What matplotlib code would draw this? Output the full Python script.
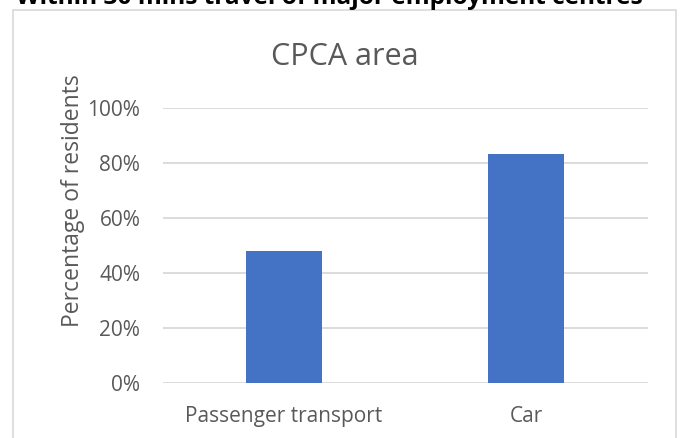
import matplotlib
matplotlib.use("Agg")
import matplotlib.pyplot as plt
from matplotlib.patches import Rectangle
from matplotlib.ticker import PercentFormatter

# Datos
categories = ["Passenger transport", "Car"]
values = [0.48, 0.83]
y_ticks = [0.0, 0.2, 0.4, 0.6, 0.8, 1.0]

heading = "Within 30 mins travel of major employment centres"
title = "CPCA area"
y_label = "Percentage of residents"

W, H = 680, 438
text_col = "#595959"
grid_col = "#d9d9d9"
bar_col = "#4472c4"

plt.rcParams["font.family"] = ["Open Sans", "DejaVu Sans"]

fig = plt.figure(figsize=(W / 100, H / 100), dpi=100)

# Marco gris del gráfico
frame = Rectangle((12.7 / W, -0.2), (676 - 12.7) / W, 1.2 - 9.5 / H,
                  transform=fig.transFigure, fill=False, edgecolor=grid_col,
                  linewidth=1.2, clip_on=False)
fig.patches.append(frame)

# Ejes
ax = fig.add_axes([162.5 / W, 1 - 383.3 / H, 485 / W, 275.6 / H])
x = range(len(categories))
ax.bar(x, values, width=0.313, color=bar_col, zorder=3)

ax.set_xlim(-0.5, len(categories) - 0.5)
ax.set_yticks(y_ticks)
ax.yaxis.set_major_formatter(PercentFormatter(1.0, decimals=0))
ax.set_xticks(list(x))
ax.set_xticklabels(categories)
ax.grid(axis="y", color=grid_col, linewidth=1.3, zorder=0)
ax.set_axisbelow(True)
for s in ax.spines.values():
    s.set_visible(False)
ax.tick_params(axis="both", length=0, labelsize=15, colors=text_col)
ax.tick_params(axis="y", pad=16)
ax.tick_params(axis="x", pad=16)
ax.set_ylim(-0.002, 1.0)

# Textos
fig.text(345 / W, 1 - 65 / H, title, ha="center", va="baseline",
         fontsize=22, color=text_col)
fig.text(73 / W, 1 - 201 / H, y_label, ha="center", va="center",
         rotation=90, fontsize=16.5, color=text_col)
fig.text(329 / W, 1 - 3.5 / H, heading, ha="center", va="baseline",
         fontsize=17.6, fontweight="bold", color="black")

fig.savefig("out.png", dpi=100)
